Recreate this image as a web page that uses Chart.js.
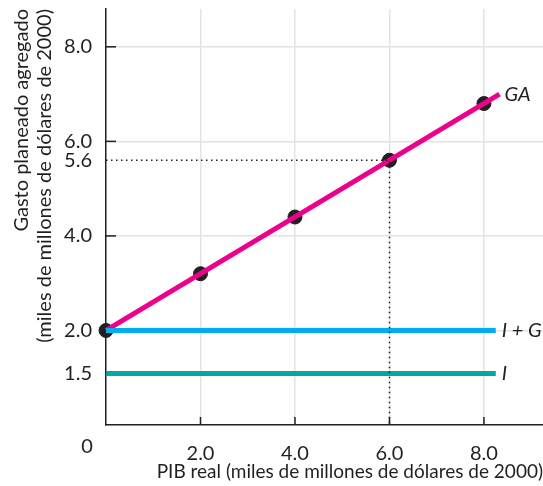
<!DOCTYPE html>
<html lang="es">
<head>
    <meta charset="UTF-8">
    <title>Gasto planeado agregado</title>
    <script src="https://cdn.jsdelivr.net/npm/chart.js"></script>
    <style>
        body { margin: 0; background: #fff; }
        #wrap { width: 543px; height: 486px; }
    </style>
</head>
<body>
    <div id="wrap"><canvas id="chart" width="543" height="486"></canvas></div>

    <script>
        // datos (posicion vertical tal como esta dibujada)
        const gaPuntos = [
            { x: 0, y: 2.0 }, { x: 2, y: 3.2 }, { x: 4, y: 4.4 }, { x: 6, y: 5.6 }, { x: 8, y: 6.8 }
        ];
        const gaLinea = [{ x: 0, y: 2.0 }, { x: 8.33, y: 7.0 }];
        const igLinea = [{ x: 0, y: 2.0 }, { x: 8.25, y: 2.0 }];
        const iLinea = [{ x: 0, y: 1.09 }, { x: 8.25, y: 1.09 }];
        const equilibrio = [{ x: 0, y: 5.6 }, { x: 6, y: 5.6 }, { x: 6, y: 0 }];
        const xTicks = [2, 4, 6, 8];
        const xTickLabels = ['2.0', '4.0', '6.0', '8.0'];
        const yTicks = [1.09, 2, 4, 5.6, 6, 8];
        const yTickLabels = ['1.5', '2.0', '4.0', '5.6', '6.0', '8.0'];
        const yGrid = [2, 4, 6, 8];

        const ink = '#231f20';
        const font = 'Lato';

        // marcas de escala hacia dentro y etiquetas de texto
        const extras = {
            id: 'extras',
            beforeDatasetsDraw(chart) {
                const { ctx, scales: { x, y } } = chart;
                ctx.save();
                ctx.strokeStyle = ink;
                ctx.lineWidth = 1.5;
                xTicks.forEach(v => {
                    const px = x.getPixelForValue(v);
                    ctx.beginPath();
                    ctx.moveTo(px, y.bottom);
                    ctx.lineTo(px, y.bottom - 8);
                    ctx.stroke();
                });
                yGrid.forEach(v => {
                    const py = y.getPixelForValue(v);
                    ctx.beginPath();
                    ctx.moveTo(x.left, py);
                    ctx.lineTo(x.left + 10, py);
                    ctx.stroke();
                });
                ctx.restore();
            },
            afterDatasetsDraw(chart) {
                const { ctx, scales: { x, y } } = chart;
                ctx.save();
                ctx.fillStyle = ink;
                ctx.textBaseline = 'middle';
                ctx.font = 'italic 20px ' + font;
                ctx.fillText('GA', x.getPixelForValue(8.33) + 5, y.getPixelForValue(7.0));
                ctx.fillText('I + G', x.getPixelForValue(8.25) + 6, y.getPixelForValue(2.0));
                ctx.fillText('I', x.getPixelForValue(8.25) + 6, y.getPixelForValue(1.09));
                ctx.font = '20px ' + font;
                ctx.textAlign = 'center';
                ctx.fillText('0', x.left - 19, y.bottom + 22);
                ctx.restore();
            }
        };

        new Chart(document.getElementById('chart'), {
            type: 'scatter',
            data: {
                datasets: [
                    {
                        data: equilibrio, showLine: true, borderColor: ink, borderWidth: 1.5,
                        borderDash: [1.5, 3.5], pointRadius: 0, clip: false
                    },
                    {
                        data: iLinea, showLine: true, borderColor: '#00a99d', borderWidth: 5,
                        pointRadius: 0, clip: false
                    },
                    {
                        data: igLinea, showLine: true, borderColor: '#00aeef', borderWidth: 5,
                        pointRadius: 0, clip: false
                    },
                    {
                        data: gaLinea, showLine: true, borderColor: '#ec008c', borderWidth: 5,
                        pointRadius: 0, clip: false
                    },
                    {
                        data: gaPuntos, showLine: false, pointRadius: 7,
                        pointBackgroundColor: ink, pointBorderColor: ink, pointBorderWidth: 1, clip: false
                    }
                ]
            },
            options: {
                responsive: false,
                animation: false,
                devicePixelRatio: 1,
                layout: { autoPadding: false, padding: { top: 9, right: 0, left: 0, bottom: 0 } },
                plugins: { legend: { display: false }, tooltip: { enabled: false } },
                scales: {
                    x: {
                        type: 'linear', min: 0, max: 9.25,
                        afterBuildTicks: s => { s.ticks = xTicks.map(v => ({ value: v })); },
                        afterFit: s => { s.height = 61; s.paddingLeft = 0; s.paddingRight = 0; },
                        ticks: {
                            color: ink, padding: 17, font: { family: font, size: 20 },
                            callback: v => xTickLabels[xTicks.indexOf(v)]
                        },
                        grid: { color: '#e3e3e3', lineWidth: 1.5, drawTicks: false },
                        border: { color: ink, width: 1.5 },
                        title: {
                            display: true, align: 'end', color: ink,
                            text: 'PIB real (miles de millones de dólares de 2000)',
                            font: { family: font, size: 19 }, padding: { top: 0, bottom: 3 }
                        }
                    },
                    y: {
                        type: 'linear', min: 0, max: 8.8,
                        afterBuildTicks: s => { s.ticks = yTicks.map(v => ({ value: v })); },
                        afterFit: s => { s.width = 106; s.paddingTop = 0; s.paddingBottom = 0; },
                        ticks: {
                            color: ink, padding: 14, font: { family: font, size: 20 },
                            callback: v => yTickLabels[yTicks.indexOf(v)]
                        },
                        grid: {
                            color: c => yGrid.includes(c.tick && c.tick.value) ? '#e3e3e3' : 'rgba(0,0,0,0)',
                            lineWidth: 1.5, drawTicks: false
                        },
                        border: { color: ink, width: 1.5 },
                        title: {
                            display: true, align: 'end', color: ink,
                            text: ['Gasto planeado agregado', '(miles de millones de dólares de 2000)'],
                            font: { family: font, size: 20, lineHeight: 1.15 }, padding: { top: 10, bottom: 0 }
                        }
                    }
                }
            },
            plugins: [extras]
        });
    </script>
</body>
</html>
